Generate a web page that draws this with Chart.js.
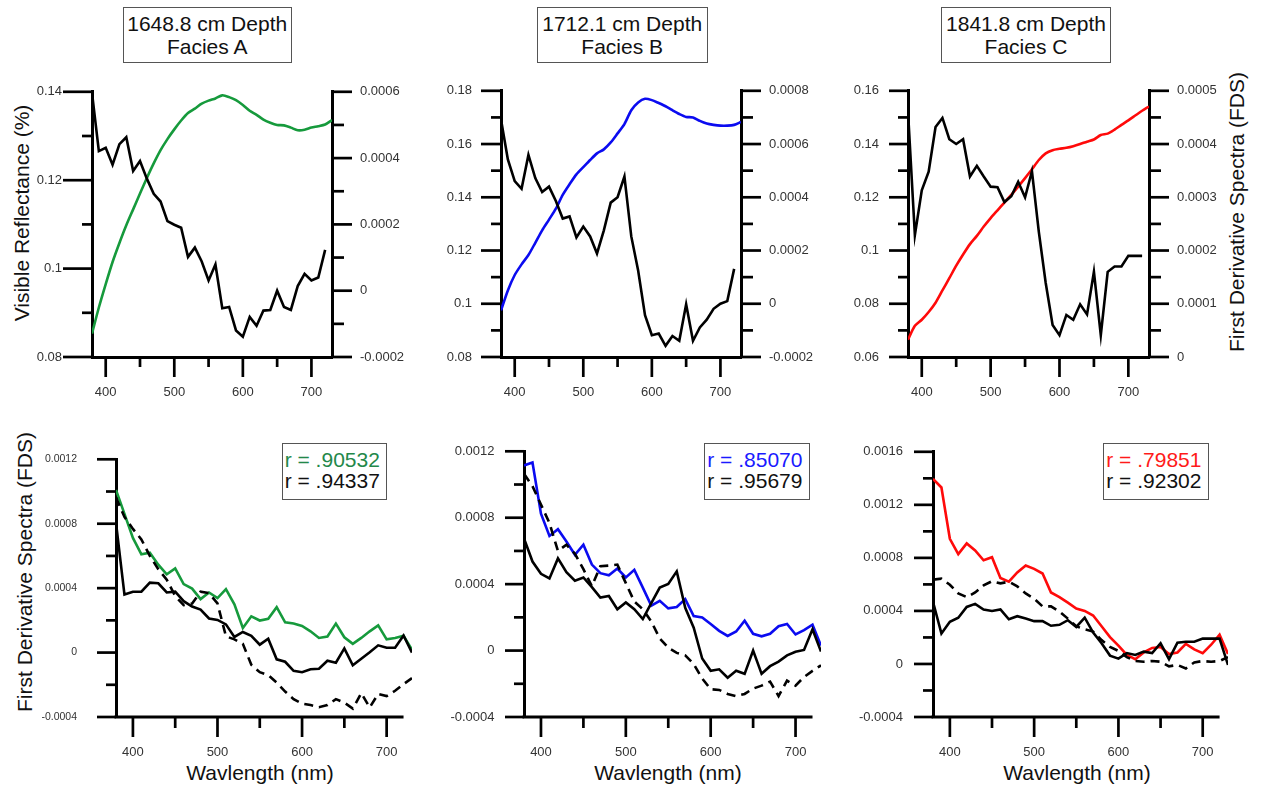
<!DOCTYPE html>
<html>
<head>
<meta charset="utf-8">
<script src="https://cdn.jsdelivr.net/npm/chart.js@4.4.1/dist/chart.umd.min.js"></script>
<style>
  body { margin: 0; width: 1261px; height: 789px; background: #fff; position: relative; overflow: hidden;
         font-family: "Liberation Sans", Arial, sans-serif; }
  canvas { position: absolute; }
  .box { position: absolute; border: 1.5px solid #555; background: #fff; box-sizing: border-box; color: #111; font-size: 21px; white-space: nowrap; }
  .title-box { text-align: center; line-height: 22.5px; padding-top: 5.5px; height: 56px; }
  .r-box { padding-left: 2px; line-height: 21.7px; padding-top: 4.3px; height: 56.7px; width: 105.6px; top: 443.3px; }
  .axis-title { position: absolute; font-size: 21px; color: #111; white-space: nowrap; transform: translate(-50%, -50%); }
  .vert { transform: translate(-50%, -50%) rotate(-90deg); }
</style>
</head>
<body>

<div class="box title-box" style="left:122.7px; top:6.7px; width:169px;">1648.8 cm Depth<br>Facies A</div>
<div class="box title-box" style="left:536.7px; top:6.7px; width:171px;">1712.1 cm Depth<br>Facies B</div>
<div class="box title-box" style="left:941px; top:6.7px; width:170px;">1841.8 cm Depth<br>Facies C</div>

<div class="axis-title vert" style="left:22px; top:212.5px;">Visible Reflectance (%)</div>
<div class="axis-title vert" style="left:25px; top:572px;">First Derivative Spectra (FDS)</div>
<div class="axis-title vert" style="left:1237px; top:211.5px;">First Derivative Spectra (FDS)</div>

<div class="axis-title" style="left:260px; top:773px;">Wavlength (nm)</div>
<div class="axis-title" style="left:668px; top:773px;">Wavlength (nm)</div>
<div class="axis-title" style="left:1077px; top:773px;">Wavlength (nm)</div>

<script>
// wavelengths, nm
const wavelengths = [380, 390, 400, 410, 420, 430, 440, 450, 460, 470, 480, 490, 500, 510, 520, 530, 540, 550,
                     560, 570, 580, 590, 600, 610, 620, 630, 640, 650, 660, 670, 680, 690, 700, 710, 720, 730];

// top row: reflectance (left axis) and FDS (right axis)
const reflA = [0.0853, 0.0912, 0.0965, 0.1015, 0.1058, 0.1098, 0.1134, 0.1170, 0.1205, 0.1238, 0.1268, 0.1293,
               0.1315, 0.1335, 0.1352, 0.1362, 0.1373, 0.1380, 0.1385, 0.1392, 0.1388, 0.1381, 0.1370, 0.1357,
               0.1348, 0.1337, 0.1330, 0.1325, 0.1324, 0.1319, 0.1313, 0.1314, 0.1319, 0.1322, 0.1326, 0.1336];
const fdsA = [0.000597, 0.000421, 0.000431, 0.00038, 0.000442, 0.000463, 0.000361, 0.000391, 0.000338, 0.000292,
              0.000269, 0.00021, 0.000199, 0.00019, 0.000102, 0.00013, 0.000088, 0.000031, 0.000079, -0.000053,
              -0.000049, -0.00012, -0.000139, -0.000079, -0.000106, -0.00006, -0.000058, 0.0, -0.000049, -0.000058,
              0.000014, 0.000051, 0.000031, 0.00004, 0.000123];

const reflB = [0.0975, 0.105, 0.1108, 0.1148, 0.1183, 0.1229, 0.1276, 0.1316, 0.1357, 0.1409, 0.1449, 0.1486,
               0.1513, 0.1540, 0.1565, 0.1580, 0.1606, 0.1640, 0.1675, 0.1727, 0.1756, 0.1770, 0.1765, 0.1754,
               0.1742, 0.1727, 0.1713, 0.1702, 0.1700, 0.1687, 0.1677, 0.1672, 0.1669, 0.1669, 0.1672, 0.1683];
const fdsB = [0.000692, 0.000542, 0.000461, 0.000432, 0.000559, 0.000472, 0.00042, 0.00044, 0.000386, 0.00032,
              0.000328, 0.000249, 0.00029, 0.000253, 0.000189, 0.000276, 0.00038, 0.0004, 0.000478, 0.000253,
              0.000125, -0.000043, -0.000118, -0.000112, -0.000158, -0.000121, -0.000139, -0.000002, -0.000139,
              -0.000089, -0.00006, -0.000019, 0.0, 0.00001, 0.000131];

const reflC = [0.0665, 0.0717, 0.074, 0.0769, 0.0804, 0.085, 0.0896, 0.0943, 0.0985, 0.1024, 0.1055, 0.109,
               0.1122, 0.1151, 0.118, 0.1209, 0.124, 0.1272, 0.1305, 0.134, 0.1365, 0.1377, 0.1382, 0.1386,
               0.1392, 0.14, 0.1409, 0.1417, 0.1434, 0.1439, 0.1454, 0.1472, 0.1489, 0.1507, 0.1525, 0.1541];
const fdsC = [0.000461, 0.000229, 0.000313, 0.000348, 0.000432, 0.000449, 0.000409, 0.0004, 0.000409, 0.000339,
              0.000359, 0.000339, 0.00032, 0.000319, 0.000291, 0.000302, 0.000329, 0.0003, 0.000349, 0.000235,
              0.000139, 0.00006, 0.000041, 0.000079, 0.00007, 0.000099, 0.00008, 0.00016, 0.000041, 0.00016,
              0.00017, 0.00017, 0.00019, 0.00019, 0.00019];

// bottom row: coloured FDS, black solid FDS, black dashed FDS
const colD = [0.00101, 0.000861, 0.000712, 0.00061, 0.00062, 0.000546, 0.000486, 0.000523, 0.000425, 0.000397,
              0.000332, 0.000373, 0.000338, 0.000394, 0.0003, 0.000153, 0.000225, 0.000199, 0.00021, 0.000282,
              0.000188, 0.00018, 0.000165, 0.000132, 0.000091, 0.0001, 0.00018, 0.000095, 0.000054, 0.000091,
              0.000132, 0.000169, 0.000082, 0.000091, 0.000104, 0.000017];
const solidD = [0.000805, 0.00036, 0.000378, 0.000378, 0.000434, 0.00043, 0.000373, 0.000378, 0.000319, 0.000286,
                0.000267, 0.000212, 0.000203, 0.000175, 0.000097, 0.000128, 0.000104, 0.000049, 0.000086, -0.000042,
                -0.000057, -0.000113, -0.000122, -0.000103, -0.0001, -0.000051, -0.000063, 0.000026, -0.000079,
                -0.000038, 0.000002, 0.000045, 0.00003, 0.00003, 0.000106, 0];
const dashD = [0.000963, 0.000842, 0.000768, 0.000703, 0.0006, 0.000518, 0.000453, 0.000351, 0.000295, 0.000305,
               0.000378, 0.000369, 0.000305, 0.000101, 0.000082, 0.000054, -0.000076, -0.000122, -0.00014, -0.000187,
               -0.000242, -0.000289, -0.000317, -0.000326, -0.000339, -0.000326, -0.000289, -0.000311, -0.000348,
               -0.000252, -0.000341, -0.000257, -0.00027, -0.000237, -0.000196, -0.000159];

const colE = [0.001115, 0.001133, 0.000824, 0.00069, 0.000731, 0.000657, 0.000577, 0.000638, 0.000518, 0.000466,
              0.000453, 0.000494, 0.00044, 0.000486, 0.000379, 0.000271, 0.0003, 0.000254, 0.000262, 0.00031,
              0.000208, 0.000199, 0.00016, 0.000119, 0.000088, 0.000115, 0.00018, 0.000101, 0.000086, 0.000101,
              0.000147, 0.00016, 0.000097, 0.000123, 0.000156, 0.00003];
const solidE = [0.000675, 0.000536, 0.000462, 0.000434, 0.000555, 0.000472, 0.000421, 0.00044, 0.000382, 0.000319,
                0.000329, 0.000249, 0.00029, 0.000249, 0.00019, 0.000286, 0.000379, 0.000401, 0.000477, 0.000258,
                0.000138, -0.000048, -0.000122, -0.000113, -0.000163, -0.000122, -0.00014, 0, -0.00014, -0.000094,
                -0.000066, -0.000029, -0.000007, 0.000004, 0.000128, -0.000006];
const dashE = [0.001065, 0.00099, 0.000879, 0.000768, 0.0006, 0.000638, 0.000583, 0.00049, 0.000388, 0.000508,
               0.000512, 0.000518, 0.000406, 0.000295, 0.000249, 0.000175, 0.000073, 0.000017, -0.000014, -0.000029,
               -0.000081, -0.000168, -0.000233, -0.000237, -0.000261, -0.000274, -0.000261, -0.000229, -0.000211,
               -0.000187, -0.000274, -0.000181, -0.000211, -0.000159, -0.000122, -0.000089];

const colF = [0.001396, 0.001331, 0.000944, 0.000828, 0.000909, 0.000856, 0.000782, 0.000805, 0.000648, 0.00062,
              0.00069, 0.000743, 0.000717, 0.000682, 0.000539, 0.000504, 0.000462, 0.000418, 0.0004, 0.000365,
              0.000284, 0.000203, 0.000138, 0.000068, 0.000036, 0.000087, 0.000121, 0.000128, 0.000075, 0.000087,
              0.000152, 0.00011, 0.000082, 0.000145, 0.000221, 0.000075];
const solidF = [0.000469, 0.00023, 0.000318, 0.000349, 0.00043, 0.000453, 0.000411, 0.0004, 0.000411, 0.000337,
                0.00036, 0.000342, 0.000323, 0.000323, 0.000288, 0.000295, 0.00033, 0.000279, 0.000349, 0.000237,
                0.000156, 0.000063, 0.00004, 0.000082, 0.000068, 0.000093, 0.000082, 0.000156, 0.000036, 0.000161,
                0.000168, 0.000168, 0.000191, 0.000191, 0.000191, -0.000007];
const dashF = [0.000636, 0.000643, 0.000597, 0.000532, 0.000504, 0.000539, 0.000592, 0.000624, 0.000608, 0.00062,
               0.000585, 0.000532, 0.000492, 0.000434, 0.000434, 0.000395, 0.000342, 0.000284, 0.000261, 0.000244,
               0.00018, 0.000128, 0.000098, 0.000052, 0.000022, 0.000017, 0.000022, 0.000017, -0.000018, -0.000007,
               -0.000034, 0.000012, 0.000022, 0.000017, 0.000022, 0.000052];

// tick labels
const wlTicks = [400, 500, 600, 700];
const reflTicksA = [0.08, 0.1, 0.12, 0.14];
const fdsTicksA = [-0.0002, 0, 0.0002, 0.0004, 0.0006];
const reflTicksB = [0.08, 0.1, 0.12, 0.14, 0.16, 0.18];
const fdsTicksB = [-0.0002, 0, 0.0002, 0.0004, 0.0006, 0.0008];
const reflTicksC = [0.06, 0.08, 0.1, 0.12, 0.14, 0.16];
const fdsTicksC = [0, 0.0001, 0.0002, 0.0003, 0.0004, 0.0005];
const fdsTicksDE = [-0.0004, 0, 0.0004, 0.0008, 0.0012];
const fdsTicksF = [-0.0004, 0, 0.0004, 0.0008, 0.0012, 0.0016];

// correlation labels
const rColoured = ['.90532', '.85070', '.79851'];
const rBlack = ['.94337', '.95679', '.92302'];

Chart.defaults.font.family = '"Liberation Sans", Arial, sans-serif';

const GREEN = '#169a3c', BLUE = '#0b0bf0', RED = '#ff0a0a';
const PAD_L = 90, PAD_R = 75, PAD_T = 15, PAD_B = 50;

const pts = values => values.map((v, i) => ({ x: wavelengths[i], y: v }));

function axis(position, spec, showBorder) {
    return {
        type: 'linear',
        position: position,
        min: spec.min,
        max: spec.max,
        afterBuildTicks: s => { s.ticks = spec.ticks.map(v => ({ value: v })); },
        afterFit: s => {
            if (position === 'bottom') s.height = PAD_B;
            else s.width = position === 'left' ? PAD_L : PAD_R;
        },
        grid: { display: false, drawTicks: false },
        border: { display: showBorder !== false, color: '#000', width: 3 },
        ticks: {
            autoSkip: false, maxRotation: 0, minRotation: 0,
            padding: spec.pad, color: '#333',
            font: { size: spec.size || 13 },
            callback: v => String(v)
        }
    };
}

// outward major / minor tick marks (and a short x axis line where needed), placed through the scales
function tickMarks(marks, xLineEnd) {
    return {
        id: 'tickMarks',
        afterDraw(chart) {
            const ctx = chart.ctx;
            ctx.save();
            ctx.strokeStyle = '#000';
            if (xLineEnd) {
                const xs = chart.scales.x;
                ctx.lineWidth = 3;
                ctx.beginPath();
                ctx.moveTo(xs.left - 1.5, xs.top);
                ctx.lineTo(xs.getPixelForValue(xLineEnd), xs.top);
                ctx.stroke();
            }
            ctx.lineWidth = 2.7;
            Object.keys(marks).forEach(id => {
                const scale = chart.scales[id];
                const m = marks[id];
                const minors = [];
                for (let i = 0; i < m.ticks.length - 1; i++) minors.push((m.ticks[i] + m.ticks[i + 1]) / 2);
                const draw = (v, len) => {
                    const p = scale.getPixelForValue(v);
                    ctx.beginPath();
                    if (scale.isHorizontal()) { ctx.moveTo(p, scale.top); ctx.lineTo(p, scale.top + len); }
                    else if (scale.position === 'left') { ctx.moveTo(scale.right, p); ctx.lineTo(scale.right - len, p); }
                    else { ctx.moveTo(scale.left, p); ctx.lineTo(scale.left + len, p); }
                    ctx.stroke();
                };
                m.ticks.forEach(v => draw(v, m.major));
                minors.forEach(v => draw(v, m.minor));
            });
            ctx.restore();
        }
    };
}

function line(values, color, yAxisID, opts) {
    return Object.assign({
        data: pts(values), borderColor: color, borderWidth: 2.6, pointRadius: 0,
        tension: 0, fill: false, yAxisID: yAxisID
    }, opts || {});
}

function panel(p) {
    const canvas = document.createElement('canvas');
    const w = (p.R - p.L) + PAD_L + PAD_R;
    const h = (p.B - p.T) + PAD_T + PAD_B;
    canvas.width = w;
    canvas.height = h;
    canvas.style.left = (p.L - PAD_L) + 'px';
    canvas.style.top = (p.T - PAD_T) + 'px';
    document.body.appendChild(canvas);

    const scales = {
        x: axis('bottom', { min: 380, max: 730, ticks: wlTicks, pad: 28 }, !p.xLineEnd),
        y: axis('left', p.left)
    };
    const marks = {
        x: { ticks: wlTicks, major: 20, minor: p.xMinor },
        y: { ticks: p.left.ticks, major: p.left.major, minor: p.left.minor }
    };
    if (p.right) {
        scales.y2 = axis('right', p.right);
        marks.y2 = { ticks: p.right.ticks, major: p.right.major, minor: p.right.minor };
    }

    new Chart(canvas, {
        type: 'line',
        data: { datasets: p.datasets },
        options: {
            responsive: false,
            animation: false,
            events: [],
            layout: { padding: { top: PAD_T, right: p.right ? 0 : PAD_R, left: 0, bottom: 0 } },
            scales: scales,
            plugins: { legend: { display: false }, tooltip: { enabled: false } }
        },
        plugins: [tickMarks(marks, p.xLineEnd)]
    });
}

// top row
panel({
    L: 92, R: 332, T: 69, B: 357, xMinor: 10,
    left: { min: 0.08, max: 0.14, ticks: reflTicksA, pad: 30, major: 29, minor: 10 },
    right: { min: -0.0002, max: 0.0006, ticks: fdsTicksA, pad: 28, major: 20, minor: 12 },
    datasets: [line(fdsA, '#000', 'y2'), line(reflA, GREEN, 'y', { tension: 0.25 })]
});
panel({
    L: 501, R: 741, T: 69, B: 357, xMinor: 10,
    left: { min: 0.08, max: 0.18, ticks: reflTicksB, pad: 29, major: 20, minor: 10 },
    right: { min: -0.0002, max: 0.0008, ticks: fdsTicksB, pad: 28, major: 20, minor: 12 },
    datasets: [line(fdsB, '#000', 'y2'), line(reflB, BLUE, 'y', { tension: 0.25 })]
});
panel({
    L: 908, R: 1149, T: 69, B: 357, xMinor: 10,
    left: { min: 0.06, max: 0.16, ticks: reflTicksC, pad: 29, major: 19, minor: 10 },
    right: { min: 0, max: 0.0005, ticks: fdsTicksC, pad: 28, major: 20, minor: 12 },
    datasets: [line(fdsC, '#000', 'y2'), line(reflC, RED, 'y', { tension: 0.25 })]
});

// bottom row (x axis line stops at 720 nm, curves run to 730 nm)
panel({
    L: 116, R: 412, T: 429, B: 717, xMinor: 11, xLineEnd: 720,
    left: { min: -0.0004, max: 0.0012, ticks: fdsTicksDE, pad: 39, size: 10.5, major: 19, minor: 10 },
    datasets: [line(dashD, '#000', 'y', { borderDash: [9, 6] }), line(solidD, '#000', 'y'), line(colD, GREEN, 'y')]
});
panel({
    L: 524, R: 821, T: 429, B: 717, xMinor: 11, xLineEnd: 720,
    left: { min: -0.0004, max: 0.0012, ticks: fdsTicksDE, pad: 29.5, major: 19, minor: 10 },
    datasets: [line(dashE, '#000', 'y', { borderDash: [9, 6] }), line(solidE, '#000', 'y'), line(colE, BLUE, 'y')]
});
panel({
    L: 933, R: 1228, T: 429, B: 717, xMinor: 11, xLineEnd: 720,
    left: { min: -0.0004, max: 0.0016, ticks: fdsTicksF, pad: 30, major: 19, minor: 10 },
    datasets: [line(dashF, '#000', 'y', { borderDash: [9, 6] }), line(solidF, '#000', 'y'), line(colF, RED, 'y')]
});

// r boxes
const rBoxLeft = [281.7, 704.3, 1103.3];
const rColours = ['#23884a', '#1a1aff', '#ff1a1a'];
rBoxLeft.forEach((x, i) => {
    const div = document.createElement('div');
    div.className = 'box r-box';
    div.style.left = x + 'px';
    const a = document.createElement('div');
    a.style.color = rColours[i];
    a.textContent = 'r = ' + rColoured[i];
    const b = document.createElement('div');
    b.textContent = 'r = ' + rBlack[i];
    div.appendChild(a);
    div.appendChild(b);
    document.body.appendChild(div);
});
</script>
</body>
</html>
